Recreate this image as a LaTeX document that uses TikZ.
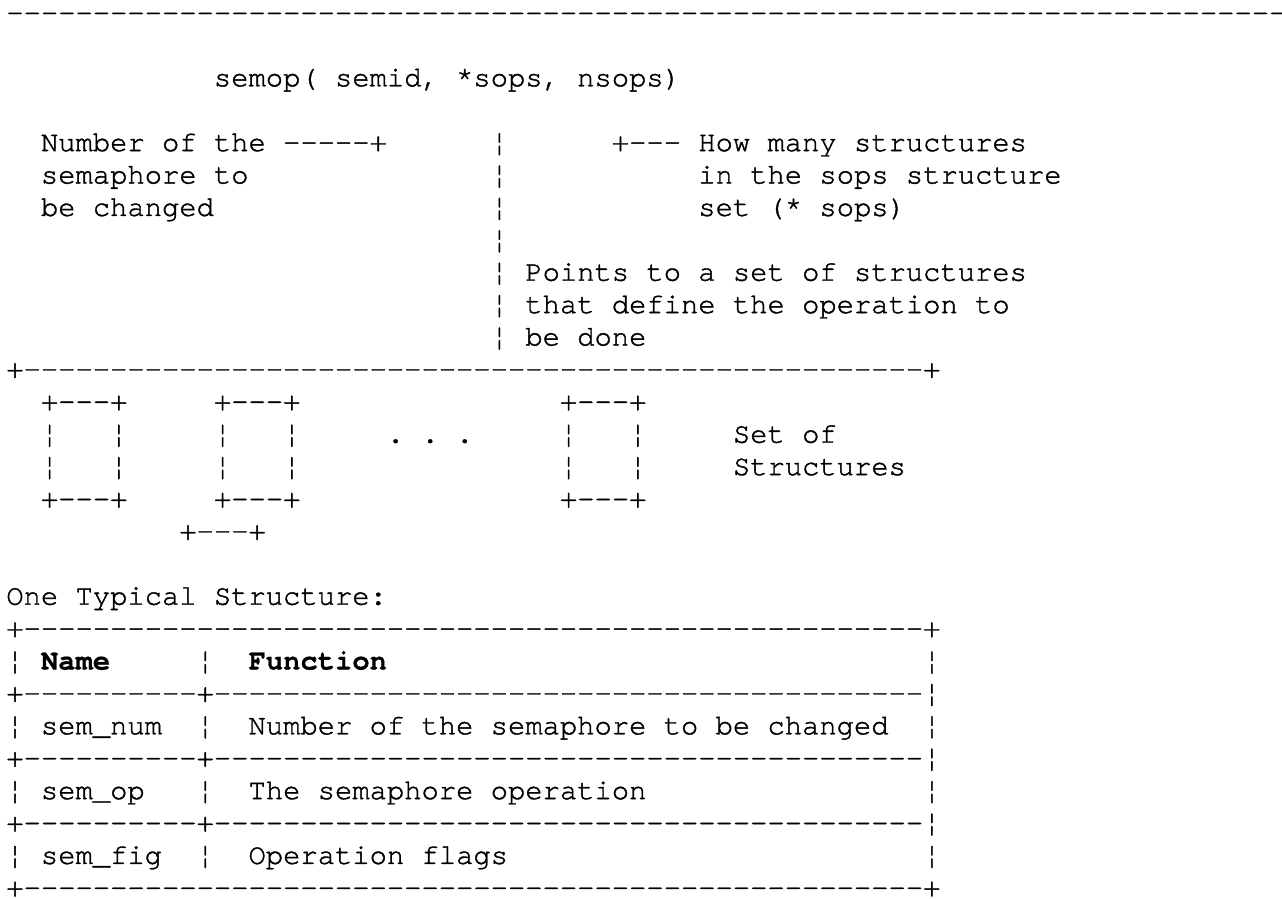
\documentclass[tikz,border=0pt]{standalone}
\usepackage{fontspec}
\newfontfamily\asc{TeX Gyre Cursor}[Ligatures={NoCommon,NoRequired}, FakeBold=1.3, BoldFeatures={FakeBold=0.6}]
\ExplSyntaxOn
\cs_new:Npn \reps #1#2 { \prg_replicate:nn {#1} {#2} }
\ExplSyntaxOff
\tikzset{
  ln/.style={anchor=base west, inner sep=0pt, outer sep=0pt,
    font=\asc\fontsize{28.83pt}{32.4pt}\selectfont\frenchspacing},
  hd/.style={ln, font=\asc\bfseries\fontsize{28.83pt}{32.4pt}\selectfont}
}
\begin{document}
\begin{tikzpicture}[x=1pt,y=1pt]
\fill[white] (0,0) rectangle (1282,-899);
\useasboundingbox (0,0) rectangle (1282,-899);
\begin{scope}[shift={(6.35pt,-21.5pt)},x=17.3pt,y=-32.4pt]
% header
\node[ln] (topline) at (0,0) {\reps{74}{-}};
\node[ln] (call) at (12,2) {semop( semid, *sops, nsops)};
% annotations
\node[ln] (semnum1) at (2,4) {Number of the -----+};
\node[ln] (semnum2) at (2,5) {semaphore to};
\node[ln] (semnum3) at (2,6) {be changed};
\node[ln] (nsops1) at (35,4) {+--- How many structures};
\node[ln] (nsops2) at (40,5) {in the sops structure};
\node[ln] (nsops3) at (40,6) {set (* sops)};
\node[ln] (bar4) at (28,4) {¦};
\node[ln] (bar5) at (28,5) {¦};
\node[ln] (bar6) at (28,6) {¦};
\node[ln] (bar7) at (28,7) {¦};
\node[ln] (sops1) at (28,8) {¦ Points to a set of structures};
\node[ln] (sops2) at (28,9) {¦ that define the operation to};
\node[ln] (sops3) at (28,10) {¦ be done};
\node[ln] (setline) at (0,11) {+\reps{52}{-}+};
% set of structures
\node[ln] (b1t) at (2,12) {+---+};
\node[ln] (b2t) at (12,12) {+---+};
\node[ln] (b3t) at (32,12) {+---+};
\node[ln] (b1a) at (2,13) {¦~~~¦};
\node[ln] (b2a) at (12,13) {¦~~~¦};
\node[ln] (dots) at (22,13) {.~.~.};
\node[ln] (b3a) at (32,13) {¦~~~¦};
\node[ln] (setof) at (42,13) {Set of};
\node[ln] (b1b) at (2,14) {¦~~~¦};
\node[ln] (b2b) at (12,14) {¦~~~¦};
\node[ln] (b3b) at (32,14) {¦~~~¦};
\node[ln] (structs) at (42,14) {Structures};
\node[ln] (b1c) at (2,15) {+---+};
\node[ln] (b2c) at (12,15) {+---+};
\node[ln] (b3c) at (32,15) {+---+};
\node[ln] (b4c) at (10,16) {+---+};
% typical structure table
\node[ln] (typ) at (0,18) {One Typical Structure:};
\node[ln] (ttop) at (0,19) {+\reps{52}{-}+};
\node[ln] (h0) at (0,20) {¦};
\node[hd] (hname) at (2,20) {Name};
\node[ln] (h1) at (11,20) {¦};
\node[hd] (hfunc) at (14,20) {Function};
\node[ln] (h2) at (53,20) {¦};
\node[ln] (sep1) at (0,21) {+\reps{10}{-}+\reps{41}{-}¦};
\node[ln] (r1a) at (0,22) {¦};
\node[ln] (r1n) at (2,22) {sem\_num};
\node[ln] (r1b) at (11,22) {¦};
\node[ln] (r1f) at (14,22) {Number of the semaphore to be changed};
\node[ln] (r1c) at (53,22) {¦};
\node[ln] (sep2) at (0,23) {+\reps{10}{-}+\reps{41}{-}¦};
\node[ln] (r2a) at (0,24) {¦};
\node[ln] (r2n) at (2,24) {sem\_op};
\node[ln] (r2b) at (11,24) {¦};
\node[ln] (r2f) at (14,24) {The semaphore operation};
\node[ln] (r2c) at (53,24) {¦};
\node[ln] (sep3) at (0,25) {+\reps{10}{-}+\reps{41}{-}¦};
\node[ln] (r3a) at (0,26) {¦};
\node[ln] (r3n) at (2,26) {sem\_fig};
\node[ln] (r3b) at (11,26) {¦};
\node[ln] (r3f) at (14,26) {Operation flags};
\node[ln] (r3c) at (53,26) {¦};
\node[ln] (tbot) at (0,27) {+\reps{52}{-}+};
\end{scope}
\end{tikzpicture}
\end{document}
